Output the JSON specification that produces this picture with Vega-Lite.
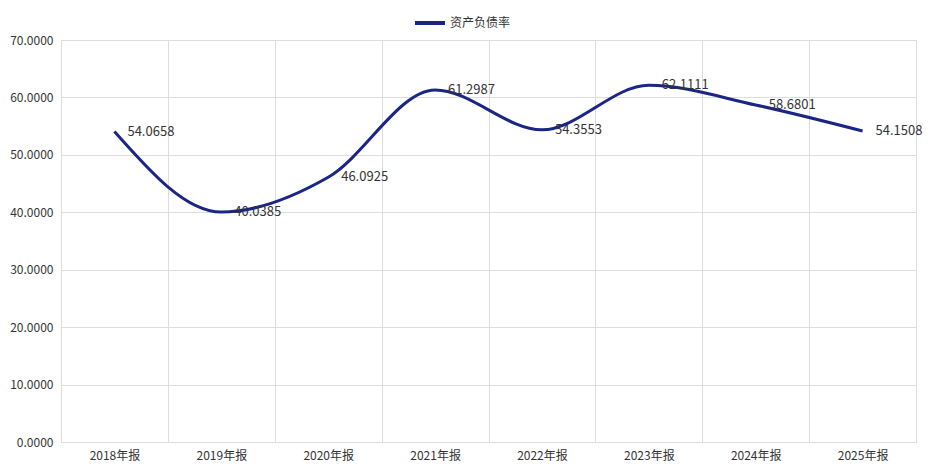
{
  "$schema": "https://vega.github.io/schema/vega-lite/v6.json",
  "width": 855,
  "height": 402,
  "autosize": {"type": "none"},
  "padding": {"left": 61, "top": 40, "right": 12, "bottom": 26},
  "background": "#ffffff",
  "config": {
    "font": "Noto Sans CJK SC",
    "view": {"stroke": "#dddddd", "strokeWidth": 1}
  },
  "data": {
    "values": [
      {"period": "2018年报", "value": 54.0658, "series": "资产负债率"},
      {"period": "2019年报", "value": 40.0385, "series": "资产负债率"},
      {"period": "2020年报", "value": 46.0925, "series": "资产负债率"},
      {"period": "2021年报", "value": 61.2987, "series": "资产负债率"},
      {"period": "2022年报", "value": 54.3553, "series": "资产负债率"},
      {"period": "2023年报", "value": 62.1111, "series": "资产负债率"},
      {"period": "2024年报", "value": 58.6801, "series": "资产负债率"},
      {"period": "2025年报", "value": 54.1508, "series": "资产负债率"}
    ]
  },
  "encoding": {
    "x": {
      "field": "period",
      "type": "ordinal",
      "sort": null,
      "scale": {"type": "band", "paddingInner": 0, "paddingOuter": 0},
      "axis": {
        "title": null,
        "labelAngle": 0,
        "tickBand": "extent",
        "grid": true,
        "gridColor": "#dddddd",
        "ticks": false,
        "domain": false,
        "labelColor": "#333333",
        "labelFontSize": 12,
        "labelPadding": 8
      }
    },
    "y": {
      "field": "value",
      "type": "quantitative",
      "scale": {"domain": [0, 70], "nice": false},
      "axis": {
        "title": null,
        "values": [0, 10, 20, 30, 40, 50, 60, 70],
        "format": ".4f",
        "grid": true,
        "gridColor": "#dddddd",
        "ticks": false,
        "domain": false,
        "labelColor": "#333333",
        "labelFontSize": 12,
        "labelPadding": 8
      }
    }
  },
  "layer": [
    {
      "mark": {"type": "line", "interpolate": "monotone", "strokeWidth": 3},
      "encoding": {
        "color": {
          "field": "series",
          "type": "nominal",
          "scale": {"range": ["#1a2585"]},
          "legend": {
            "title": null,
            "orient": "none",
            "legendX": 352,
            "legendY": -34,
            "symbolType": "stroke",
            "symbolSize": 900,
            "symbolStrokeWidth": 4,
            "labelFontSize": 12,
            "labelColor": "#333333",
            "labelOffset": 3
          }
        }
      }
    },
    {
      "mark": {"type": "text", "align": "left", "baseline": "middle", "dx": 13, "fontSize": 13, "color": "#333333"},
      "encoding": {
        "text": {"field": "value", "type": "quantitative", "format": ".4f"}
      }
    }
  ]
}
